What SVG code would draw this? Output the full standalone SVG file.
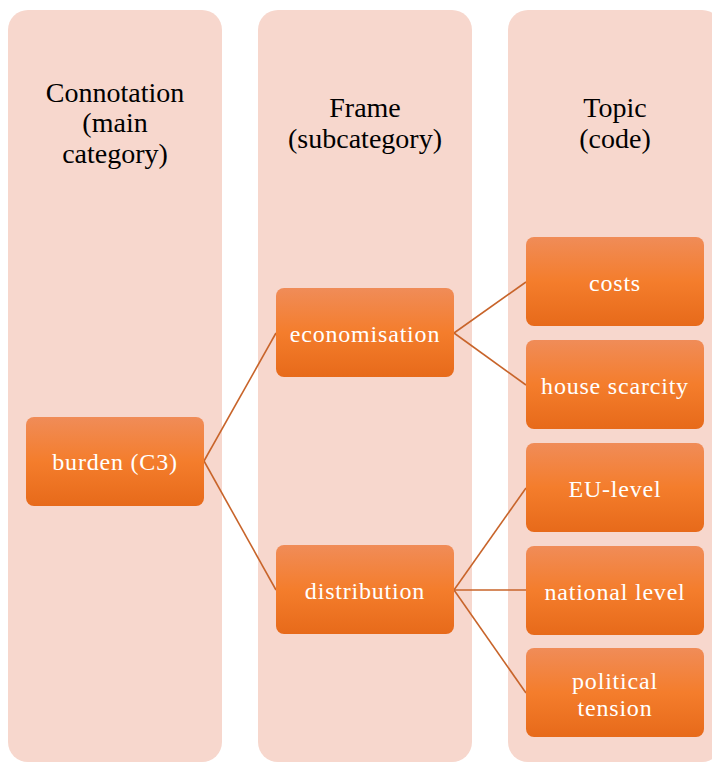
<svg xmlns="http://www.w3.org/2000/svg" width="712" height="762" viewBox="0 0 712 762">
  <defs>
    <linearGradient id="nodeFill" x1="0" y1="0" x2="0" y2="1">
      <stop offset="0" stop-color="#F08C58"/>
      <stop offset="0.5" stop-color="#F47D2C"/>
      <stop offset="1" stop-color="#E76A1A"/>
    </linearGradient>
    <style>
      .lane { fill: #F7D7CD; }
      .node rect { fill: url(#nodeFill); }
      text { font-family: 'Liberation Serif', serif; }
      .head { font-size: 28px; fill: #000; text-anchor: middle; }
      .label { font-size: 24px; fill: #fff; text-anchor: middle; letter-spacing: 0.8px; }
      .links line { stroke: #C8642A; stroke-width: 1.6; }
    </style>
  </defs>

  <!-- column backgrounds -->
  <g id="lanes">
    <rect class="lane" x="8" y="10" width="214" height="752" rx="20"/>
    <rect class="lane" x="258" y="10" width="214" height="752" rx="20"/>
    <rect class="lane" x="508" y="10" width="214" height="752" rx="20"/>
  </g>

  <!-- column headings -->
  <g id="head-connotation">
    <text class="head" x="115" y="102">Connotation</text>
    <text class="head" x="115" y="132">(main</text>
    <text class="head" x="115" y="163">category)</text>
  </g>
  <g id="head-frame">
    <text class="head" x="365" y="117">Frame</text>
    <text class="head" x="365" y="148">(subcategory)</text>
  </g>
  <g id="head-topic">
    <text class="head" x="615" y="117">Topic</text>
    <text class="head" x="615" y="148">(code)</text>
  </g>

  <!-- connectors -->
  <g id="connectors" class="links">
    <line x1="204" y1="461" x2="276" y2="333"/>
    <line x1="204" y1="461" x2="276" y2="590"/>
    <line x1="454" y1="333" x2="526" y2="282"/>
    <line x1="454" y1="333" x2="526" y2="385"/>
    <line x1="454" y1="590" x2="526" y2="488"/>
    <line x1="454" y1="590" x2="526" y2="590"/>
    <line x1="454" y1="590" x2="526" y2="693"/>
  </g>

  <!-- nodes -->
  <g id="burden" class="node">
    <rect x="26" y="417" width="178" height="89" rx="8"/>
    <text class="label" x="115" y="470">burden (C3)</text>
  </g>
  <g id="economisation" class="node">
    <rect x="276" y="288" width="178" height="89" rx="8"/>
    <text class="label" x="365" y="342">economisation</text>
  </g>
  <g id="distribution" class="node">
    <rect x="276" y="545" width="178" height="89" rx="8"/>
    <text class="label" x="365" y="599">distribution</text>
  </g>
  <g id="costs" class="node">
    <rect x="526" y="237" width="178" height="89" rx="8"/>
    <text class="label" x="615" y="291">costs</text>
  </g>
  <g id="house-scarcity" class="node">
    <rect x="526" y="340" width="178" height="89" rx="8"/>
    <text class="label" x="615" y="394">house scarcity</text>
  </g>
  <g id="eu-level" class="node">
    <rect x="526" y="443" width="178" height="89" rx="8"/>
    <text class="label" x="615" y="497">EU-level</text>
  </g>
  <g id="national-level" class="node">
    <rect x="526" y="546" width="178" height="89" rx="8"/>
    <text class="label" x="615" y="600">national level</text>
  </g>
  <g id="political-tension" class="node">
    <rect x="526" y="648" width="178" height="89" rx="8"/>
    <text class="label" x="615" y="689">political</text>
    <text class="label" x="615" y="716">tension</text>
  </g>
</svg>
